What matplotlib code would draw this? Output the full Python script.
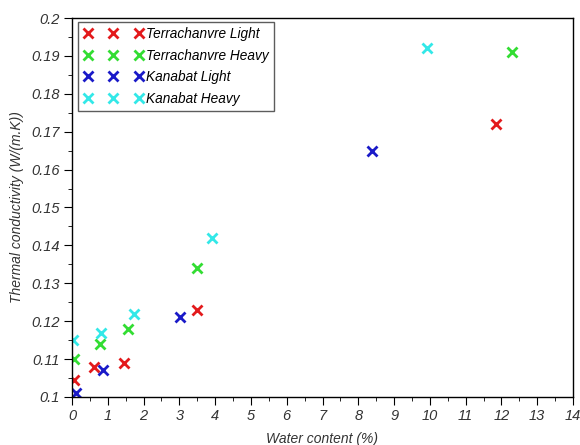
import matplotlib
matplotlib.use("Agg")
import matplotlib.pyplot as plt
from matplotlib.ticker import MultipleLocator

plt.rcParams['font.family'] = ['Liberation Sans', 'DejaVu Sans']

series_names = ["Terrachanvre Light", "Terrachanvre Heavy", "Kanabat Light", "Kanabat Heavy"]
tl_x = [0.05, 0.62, 1.45, 3.5, 11.85]
tl_y = [0.1045, 0.108, 0.109, 0.123, 0.172]
th_x = [0.05, 0.78, 1.56, 3.49, 12.3]
th_y = [0.110, 0.114, 0.118, 0.134, 0.191]
kl_x = [0.1, 0.87, 3.02, 8.38]
kl_y = [0.101, 0.107, 0.121, 0.165]
kh_x = [0.03, 0.82, 1.73, 3.92, 9.92]
kh_y = [0.115, 0.117, 0.122, 0.142, 0.192]
colors = ["#e31a1c", "#33dd33", "#1a1ac8", "#33e8e8"]

fig = plt.figure(figsize=(5.8, 4.45), dpi=100)
ax = fig.add_axes([72/580, 1-397/445, (573-72)/580, (397-18)/445])

for (xs, ys), c, n in zip([(tl_x, tl_y), (th_x, th_y), (kl_x, kl_y), (kh_x, kh_y)], colors, series_names):
    ax.plot(xs, ys, linestyle='none', marker='x', markersize=7, markeredgewidth=2, color=c, label=n)

ax.set_xlim(0, 14)
ax.set_ylim(0.1, 0.2)
ax.xaxis.set_major_locator(MultipleLocator(1))
ax.xaxis.set_minor_locator(MultipleLocator(0.5))
ax.yaxis.set_major_locator(MultipleLocator(0.01))
ax.yaxis.set_minor_locator(MultipleLocator(0.005))
ax.tick_params(which='major', direction='out', length=6, labelsize=10.5, top=False, right=False, pad=3)
ax.tick_params(which='minor', direction='out', length=3, top=False, right=False)
ax.set_xticklabels([f"{int(v)}" for v in ax.get_xticks()], style='italic', color='#333333')
ax.set_yticklabels([f"{v:g}" for v in ax.get_yticks()], style='italic', color='#333333')
for s in ax.spines.values():
    s.set_linewidth(1.0)
ax.set_xlabel("Water content (%)", style='italic', fontsize=10, color='#333333', labelpad=6)
ax.set_ylabel("Thermal conductivity (W/(m.K))", style='italic', fontsize=10, color='#333333', labelpad=5)

leg = ax.legend(loc='upper left', bbox_to_anchor=(0.012, 0.99), numpoints=3, frameon=True,
                fancybox=False, edgecolor='#333333', prop={'style': 'italic', 'size': 9.8},
                handlelength=4.4, handletextpad=0.2, labelspacing=0.55, borderpad=0.4, borderaxespad=0)
leg.get_frame().set_linewidth(1.0)
fig.savefig("out.png", dpi=100)
